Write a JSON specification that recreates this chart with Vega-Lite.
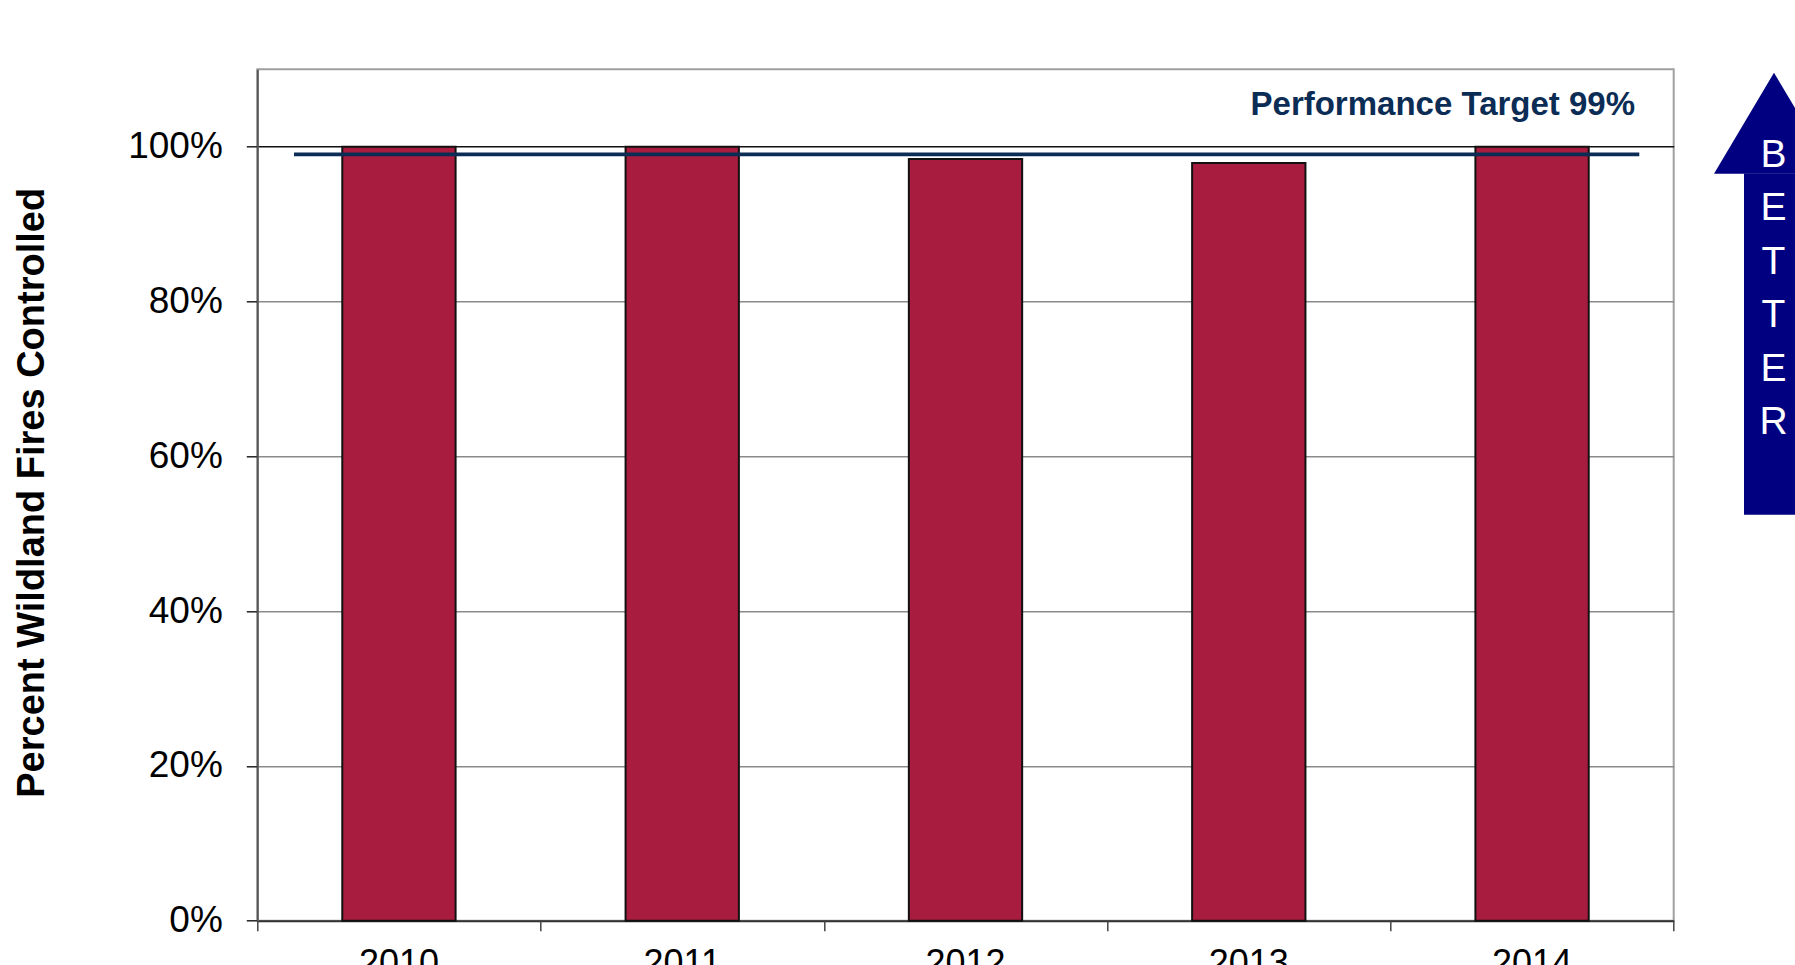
{
  "$schema": "https://vega.github.io/schema/vega-lite/v6.json",
  "autosize": {"type": "none"},
  "width": 1416.4,
  "height": 851.4,
  "padding": {"left": 257.3, "top": 69.3, "right": 121.3, "bottom": 44.3},
  "background": "white",
  "config": {
    "view": {"stroke": "#a0a0a0", "strokeWidth": 2},
    "font": "Liberation Sans"
  },
  "layer": [
    {
      "data": {"values": [
        {"year": "2010", "pct": 1.0},
        {"year": "2011", "pct": 1.0},
        {"year": "2012", "pct": 0.984},
        {"year": "2013", "pct": 0.979},
        {"year": "2014", "pct": 1.0}
      ]},
      "mark": {"type": "bar", "color": "#A81D3F", "stroke": "#111111", "strokeWidth": 2},
      "encoding": {
        "x": {
          "field": "year", "type": "nominal",
          "scale": {"paddingInner": 0.6, "paddingOuter": 0.3},
          "axis": {
            "orient": "bottom",
            "title": null, "labelAngle": 0, "labelFont": "Liberation Sans", "labelFontSize": 36,
            "labelColor": "black", "labelPadding": 26, "ticks": false,
            "domainColor": "#333", "domainWidth": 2, "grid": false
          }
        },
        "y": {
          "field": "pct", "type": "quantitative",
          "title": "Percent Wildland Fires Controlled",
          "scale": {"domain": [0, 1.1], "nice": false},
          "axis": {
            "values": [0, 0.2, 0.4, 0.6, 0.8, 1.0], "format": ".0%",
            "labelFont": "Liberation Sans", "labelFontSize": 37, "labelColor": "black",
            "labelPadding": 24, "tickSize": 11, "tickColor": "#222", "tickWidth": 1.5,
            "domainColor": "#555", "domainWidth": 2,
            "grid": true,
            "gridColor": {"condition": {"test": "datum.value === 1", "value": "#111111"}, "value": "#8a8a8a"},
            "gridWidth": 1.5,
            "titleFont": "Liberation Sans", "titleFontSize": 38, "titleFontWeight": "bold", "titleColor": "black",
            "titleAngle": 270, "titleBaseline": "alphabetic", "titleAlign": "center",
            "titleX": -214, "titleY": 423
          }
        }
      }
    },
    {
      "layer": [
        {
          "data": {"values": [{"rx": 0.1296, "rx2": 4.8785, "ry": 0.99}]},
          "mark": {"type": "rule", "color": "#0B2D55", "strokeWidth": 3.8},
          "encoding": {
            "x": {"field": "rx", "type": "quantitative", "title": null, "scale": {"domain": [0, 5], "nice": false, "zero": false},
              "axis": {"orient": "bottom", "values": [0, 1, 2, 3, 4, 5], "labels": false, "domain": false, "grid": false, "tickSize": 10, "tickColor": "#444", "tickWidth": 1.5, "title": null}},
            "x2": {"field": "rx2"},
            "y": {"field": "ry", "type": "quantitative", "title": "Percent Wildland Fires Controlled"}
          }
        },
        {
          "data": {"values": [{"tx": 4.8636, "ty": 1.0405, "label": "Performance Target 99%"}]},
          "mark": {"type": "text", "align": "right", "baseline": "alphabetic", "font": "Liberation Sans", "fontSize": 33, "fontWeight": "bold", "color": "#0B2D55"},
          "encoding": {
            "x": {"field": "tx", "type": "quantitative", "title": null,
              "axis": {"orient": "bottom", "values": [0, 1, 2, 3, 4, 5], "labels": false, "domain": false, "grid": false, "tickSize": 10, "tickColor": "#444", "tickWidth": 1.5, "title": null}},
            "y": {"field": "ty", "type": "quantitative", "title": "Percent Wildland Fires Controlled"},
            "text": {"field": "label"}
          }
        },
        {
          "data": {"values": [
            {"hx": 5.1423, "hy": 0.9651, "hy2": 0.9651},
            {"hx": 5.354, "hy": 1.0957, "hy2": 0.9651},
            {"hx": 5.566, "hy": 0.9651, "hy2": 0.9651}
          ]},
          "mark": {"type": "area", "color": "#000080", "opacity": 1},
          "encoding": {
            "x": {"field": "hx", "type": "quantitative", "title": null,
              "axis": {"orient": "bottom", "values": [0, 1, 2, 3, 4, 5], "labels": false, "domain": false, "grid": false, "tickSize": 10, "tickColor": "#444", "tickWidth": 1.5, "title": null}},
            "y": {"field": "hy", "type": "quantitative", "title": "Percent Wildland Fires Controlled"},
            "y2": {"field": "hy2"}
          }
        },
        {
          "data": {"values": [{"sx": 5.2482, "sx2": 5.46, "sy": 0.5246, "sy2": 0.9655}]},
          "mark": {"type": "rect", "color": "#000080"},
          "encoding": {
            "x": {"field": "sx", "type": "quantitative", "title": null,
              "axis": {"orient": "bottom", "values": [0, 1, 2, 3, 4, 5], "labels": false, "domain": false, "grid": false, "tickSize": 10, "tickColor": "#444", "tickWidth": 1.5, "title": null}},
            "x2": {"field": "sx2"},
            "y": {"field": "sy", "type": "quantitative", "title": "Percent Wildland Fires Controlled"},
            "y2": {"field": "sy2"}
          }
        },
        {
          "data": {"values": [{"bx": 5.3522, "by": 0.9742, "word": "B\nE\nT\nT\nE\nR"}]},
          "mark": {"type": "text", "align": "center", "baseline": "alphabetic", "lineBreak": "\n", "lineHeight": 53.5, "font": "Liberation Sans", "fontSize": 39, "color": "white"},
          "encoding": {
            "x": {"field": "bx", "type": "quantitative", "title": null,
              "axis": {"orient": "bottom", "values": [0, 1, 2, 3, 4, 5], "labels": false, "domain": false, "grid": false, "tickSize": 10, "tickColor": "#444", "tickWidth": 1.5, "title": null}},
            "y": {"field": "by", "type": "quantitative", "title": "Percent Wildland Fires Controlled"},
            "text": {"field": "word"}
          }
        }
      ]
    }
  ],
  "resolve": {"scale": {"x": "independent"}}
}
